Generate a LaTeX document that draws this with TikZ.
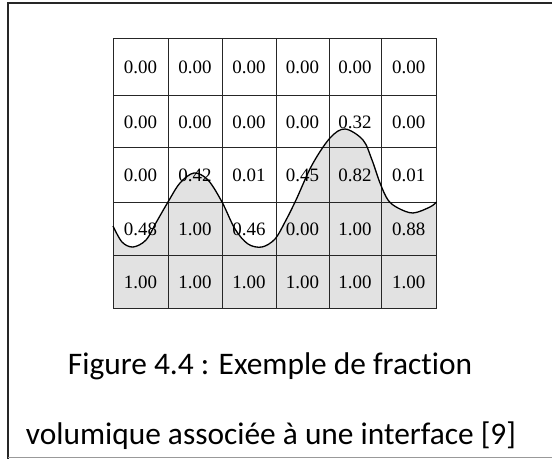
\documentclass[tikz,border=0pt]{standalone}
\usepackage{fontspec}
\newfontfamily\cellfont{Liberation Serif}
\newfontfamily\capfont[Ligatures={NoCommon}]{Carlito}
\definecolor{fillgray}{RGB}{226,226,226}
\begin{document}
\begin{tikzpicture}[x=1bp,y=-1bp,
  gridline/.style={line width=1bp,black!85},
  curveline/.style={line width=1.3bp,black},
  cellnum/.style={font=\cellfont\fontsize{19}{22}\selectfont,inner sep=0pt},
  captext/.style={font=\capfont\fontsize{31.5}{36}\selectfont,inner sep=0pt}]
\useasboundingbox (0,0) rectangle (552,459);
\fill[white] (0,0) rectangle (552,459);
% frame
\draw[line width=2bp,black!85] (8,462) -- (8,3.5) -- (556,3.5);
\draw[line width=1bp,black!40] (8,457.5) -- (556,457.5);
% shaded region under the interface
\def\ifacecurve{plot[smooth,tension=0.55] coordinates {(113,226) (122,242) (133,247) (146,240) (157,221) (168,202) (180,183) (194,173) (208,180) (222,202) (235,229) (248,244) (262,247) (275,239) (285,222) (296,200) (312,165) (330,138) (345,129) (363,140) (372,160) (380,183) (388,200) (398,208) (413,213) (430,207) (436.5,202)}}
\fill[fillgray] \ifacecurve -- (436.5,308) -- (113,308) -- cycle;
% grid
\foreach \x in {113,168,222,276,329,381,436.5}
  \draw[gridline] (\x,39) -- (\x,308);
\foreach \y in {39,96,148,203,256,308}
  \draw[gridline] (113,\y) -- (436.5,\y);
% interface
\draw[curveline] \ifacecurve;
% values
\def\colc{{140.5,195,249,302.5,355,408.75}}
\def\rowc{{67.5,122,175.5,229.5,282}}
\foreach \r/\vals in {0/{0.00,0.00,0.00,0.00,0.00,0.00},
                      1/{0.00,0.00,0.00,0.00,0.32,0.00},
                      2/{0.00,0.42,0.01,0.45,0.82,0.01},
                      3/{0.48,1.00,0.46,0.00,1.00,0.88},
                      4/{1.00,1.00,1.00,1.00,1.00,1.00}}{
  \foreach \v [count=\c from 0] in \vals {
    \pgfmathsetmacro\cx{\colc[\c]}
    \pgfmathsetmacro\cy{\rowc[\r]}
    \node[cellnum] (v\r\c) at (\cx,\cy) {\v};
  }
}
% caption
\node[captext] (cap1) at (270,366) {Figure 4.4 : Exemple de fraction};
\node[captext] (cap2) at (271,436) {volumique associée à une interface [9]};
\end{tikzpicture}
\end{document}
